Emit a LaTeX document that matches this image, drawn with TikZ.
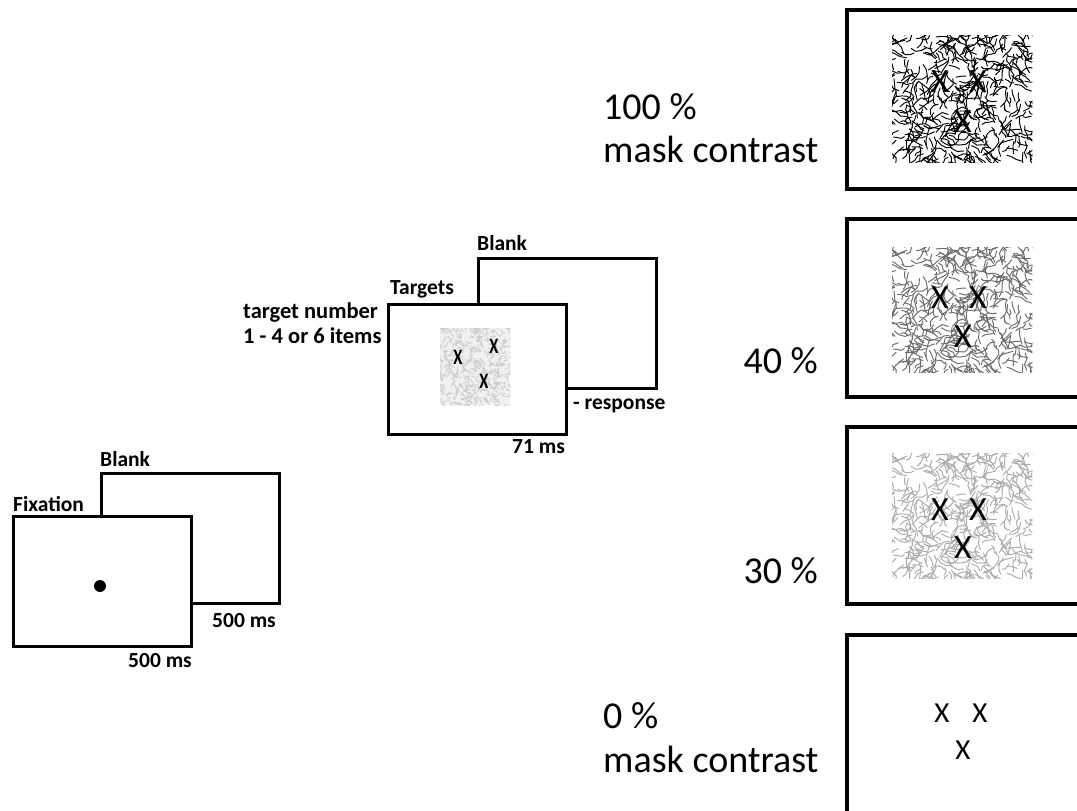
\documentclass[tikz,border=0pt]{standalone}
\usepackage{fontspec}
\setmainfont{Carlito}
\newcommand\maskpat[2]{%
  \begin{scope}
    \clip (#1.north west) rectangle (#1.south east);
    \pgfmathsetseed{7}
    \foreach \i in {1,...,470}{%
      \pgfmathsetmacro\mx{-6+152*rnd}%
      \pgfmathsetmacro\my{-6+139*rnd}%
      \pgfmathsetmacro\ma{360*rnd}%
      \pgfmathsetmacro\mb{\ma+100*rnd-50}%
      \pgfmathsetmacro\mc{\mb+100*rnd-50}%
      \pgfmathsetmacro\ml{2.5+4*rnd}%
      \draw[#2, line width=0.95pt, line cap=round, line join=round, shift={(#1.north west)}]
        (\mx,\my) -- ++(\ma:\ml) -- ++(\mb:\ml) -- ++(\mc:\ml);
    }
  \end{scope}}
\newcommand\targpat[1]{%
  \begin{scope}
    \clip (#1.north west) rectangle (#1.south east);
    \pgfmathsetseed{3}
    \foreach \i in {1,...,500}{%
      \pgfmathsetmacro\mx{-3+76*rnd}%
      \pgfmathsetmacro\my{-3+83*rnd}%
      \pgfmathsetmacro\ma{360*rnd}%
      \pgfmathsetmacro\mb{\ma+140*rnd-70}%
      \pgfmathsetmacro\ml{1.2+2*rnd}%
      \draw[gray!40, line width=0.8pt, line cap=round, shift={(#1.north west)}]
        (\mx,\my) -- ++(\ma:\ml) -- ++(\mb:\ml);
    }
  \end{scope}}
\begin{document}
\begin{tikzpicture}[x=1pt,y=-1pt,
  screen/.style={draw=black, line width=2.8pt, fill=white, minimum width=178pt,
    minimum height=130pt, inner sep=0pt, anchor=north west},
  bigscreen/.style={draw=black, line width=3.8pt, fill=white, minimum width=250pt,
    inner sep=0pt, anchor=north west},
  patch/.style={inner sep=0pt, anchor=north west, minimum width=140pt},
  lbl/.style={font=\bfseries\fontsize{21.5}{25}\selectfont, inner sep=0pt, anchor=base west},
  lblw/.style={font=\bfseries\fontsize{22.5}{26}\selectfont, inner sep=0pt, anchor=base west},
  big/.style={font=\fontsize{38}{45}\selectfont, inner sep=0pt},
  mx/.style={font=\fontsize{34}{40}\selectfont, inner sep=0pt},
  tx/.style={font=\bfseries\fontsize{22}{26}\selectfont, inner sep=0pt, xscale=0.75}
]
\useasboundingbox (0,0) rectangle (1077,811);
\clip (0,0) rectangle (1077,811);

% fixation sequence
\node[screen] (blankA) at (100,472) {};
\node[screen] (fix) at (12,515) {};
\node[circle, fill=black, minimum size=12pt, inner sep=0pt] (dot) at (100,586) {};
\node[lbl] (lblankA) at (100,466) {Blank};
\node[lbl] (lfix) at (13,511) {Fixation};
\node[lbl] (tA) at (212,627) {500 ms};
\node[lbl] (tfix) at (128,667) {500 ms};

% target sequence
\node[screen] (blankB) at (477,257) {};
\node[screen] (targ) at (387,303) {};
\node[patch, minimum width=70pt, minimum height=77pt, fill=gray!12] (tnoise) at (440,328) {};
\targpat{tnoise}
\node[tx] (tx1) at (458,357) {X};
\node[tx] (tx2) at (494,346) {X};
\node[tx] (tx3) at (484,381) {X};
\node[lbl] (lblankB) at (477,250) {Blank};
\node[lbl] (ltarg) at (390,294) {Targets};
\node[lblw] (lnum1) at (243,318) {target number};
\node[lblw] (lnum2) at (243,343) {1 - 4 or 6 items};
\node[lbl] (lresp) at (573,409) {- response};
\node[lbl] (t71) at (512,453) {71 ms};

% mask contrast conditions
\node[bigscreen, minimum height=179pt] (m100) at (845,8) {};
\node[patch, minimum height=127pt] (p100) at (892,35) {};
\maskpat{p100}{black}
\node[mx] (a1) at (940,82) {X};
\node[mx] (a2) at (978,82) {X};
\node[mx] (a3) at (963,122) {X};

\node[bigscreen, minimum height=178pt] (m40) at (845,217) {};
\node[patch, minimum height=125pt] (p40) at (892,247) {};
\maskpat{p40}{black!58}
\node[mx] (b1) at (940,298) {X};
\node[mx] (b2) at (978,298) {X};
\node[mx] (b3) at (963,337) {X};

\node[bigscreen, minimum height=177pt] (m30) at (845,425) {};
\node[patch, minimum height=125pt] (p30) at (892,453) {};
\maskpat{p30}{black!33}
\node[mx] (c1) at (940,510) {X};
\node[mx] (c2) at (978,510) {X};
\node[mx] (c3) at (963,548) {X};

\node[bigscreen, minimum height=200pt] (m0) at (845,633) {};
\node[mx, font=\fontsize{29}{34}\selectfont] (d1) at (942,713) {X};
\node[mx, font=\fontsize{29}{34}\selectfont] (d2) at (980,713) {X};
\node[mx, font=\fontsize{29}{34}\selectfont] (d3) at (963,750) {X};

\node[big, anchor=base west] (l100) at (603,119) {100 \%};
\node[big, anchor=base west] (l100b) at (603,162) {mask contrast};
\node[big, anchor=base east] (l40) at (818,373) {40 \%};
\node[big, anchor=base east] (l30) at (818,583) {30 \%};
\node[big, anchor=base west] (l0) at (603,728) {0 \%};
\node[big, anchor=base west] (l0b) at (603,772) {mask contrast};
\end{tikzpicture}
\end{document}
